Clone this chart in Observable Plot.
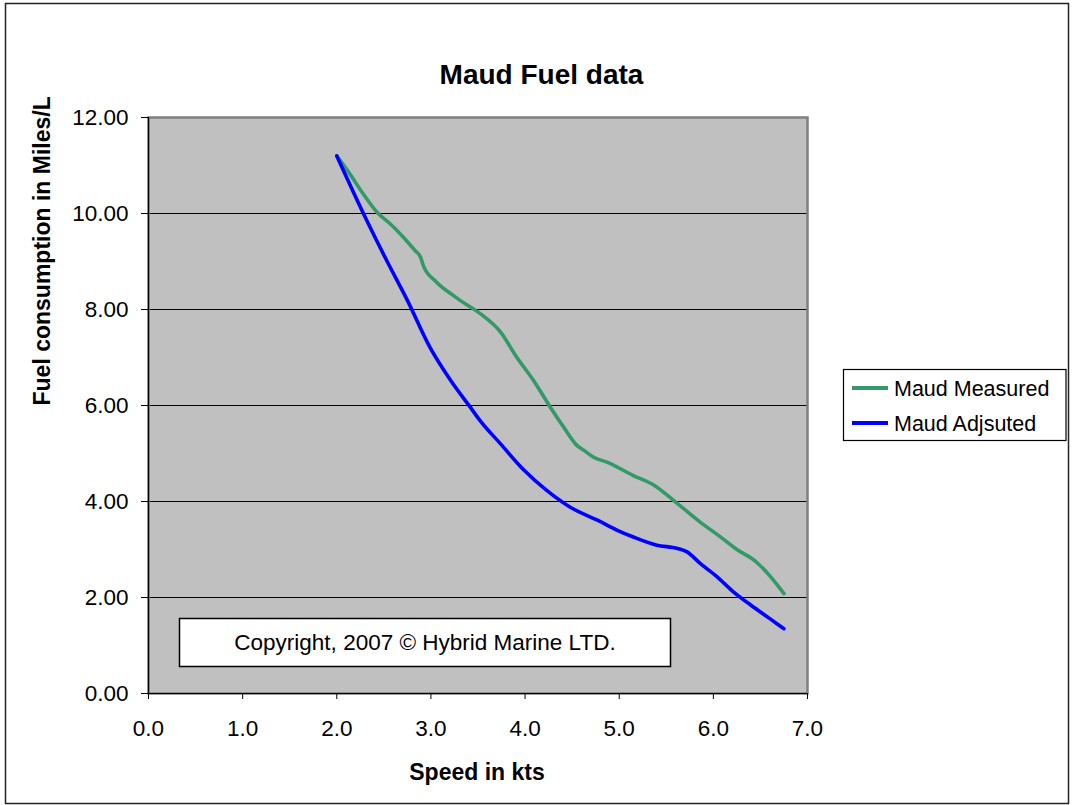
<!DOCTYPE html>
<html>
<head>
<meta charset="utf-8">
<script src="https://cdn.jsdelivr.net/npm/d3@7"></script>
<script src="https://cdn.jsdelivr.net/npm/@observablehq/plot@0.6"></script>
<style>
  html, body { margin: 0; padding: 0; background: #ffffff; }
  #chart svg { display: block; }
</style>
</head>
<body>
<div id="chart"></div>
<script>
// ---- Data ----
const chartTitle = "Maud Fuel data";
const xLabel = "Speed in kts";
const yLabel = "Fuel consumption in Miles/L";
const copyrightText = "Copyright, 2007 © Hybrid Marine LTD.";

const seriesNames = ["Maud Measured", "Maud Adjsuted"];
const seriesColors = ["#339966", "#0000FF"];

const measuredSpeed = [2.00, 2.14, 2.28, 2.43, 2.57, 2.71, 2.83, 2.89, 2.92, 3.06, 3.24, 3.31, 3.52, 3.74, 3.91, 4.09, 4.27, 4.41, 4.55, 4.63, 4.73, 4.87, 5.15, 5.37, 5.58, 5.86, 6.05, 6.25, 6.45, 6.60, 6.75];
const measuredFuel  = [11.20, 10.82, 10.41, 10.02, 9.78, 9.50, 9.23, 9.09, 8.91, 8.57, 8.29, 8.19, 7.92, 7.53, 7.01, 6.52, 5.96, 5.55, 5.17, 5.06, 4.92, 4.82, 4.54, 4.34, 4.02, 3.57, 3.30, 3.00, 2.75, 2.45, 2.08];

const adjustedSpeed = [2.00, 2.32, 2.53, 2.75, 2.99, 3.21, 3.42, 3.52, 3.74, 3.99, 4.23, 4.48, 4.77, 4.98, 5.15, 5.40, 5.62, 5.72, 5.86, 6.04, 6.20, 6.40, 6.60, 6.75];
const adjustedFuel  = [11.20, 9.85, 9.02, 8.19, 7.21, 6.52, 5.96, 5.69, 5.20, 4.65, 4.23, 3.88, 3.61, 3.40, 3.26, 3.09, 3.02, 2.95, 2.71, 2.43, 2.14, 1.84, 1.56, 1.35];

const xTicks = [0, 1, 2, 3, 4, 5, 6, 7];
const yTicks = [0, 2, 4, 6, 8, 10, 12];
const gridValues = [2, 4, 6, 8, 10];

// ---- Table built from the arrays ----
const rows = [
  ...measuredSpeed.map((s, i) => ({ series: seriesNames[0], speed: s, fuel: measuredFuel[i] })),
  ...adjustedSpeed.map((s, i) => ({ series: seriesNames[1], speed: s, fuel: adjustedFuel[i] }))
];

const FONT = "'Liberation Sans', Arial, Helvetica, sans-serif";

const chart = Plot.plot({
  width: 1072,
  height: 805,
  marginLeft: 148,
  marginRight: 265,
  marginTop: 117,
  marginBottom: 112,
  style: { fontFamily: FONT, fontSize: "22px", color: "#000", background: "#ffffff", overflow: "visible" },
  x: { domain: [0, 7] },
  y: { domain: [0, 12] },
  color: { domain: seriesNames, range: seriesColors },
  marks: [
    Plot.frame({ fill: "#C0C0C0" }),
    Plot.ruleY(gridValues, { stroke: "#000", strokeWidth: 1.2 }),
    Plot.frame({ stroke: "#808080", strokeWidth: 2.5 }),
    Plot.ruleX([0], { stroke: "#000", strokeWidth: 1.2 }),
    Plot.ruleY([0], { stroke: "#000", strokeWidth: 1.2 }),
    Plot.line(rows, { x: "speed", y: "fuel", z: "series", stroke: "series", strokeWidth: 3.6, curve: "monotone-x" }),
    Plot.axisX({ ticks: xTicks, tickFormat: d3.format(".1f"), tickSize: 6, tickPadding: 21, label: null, fontSize: 22.5 }),
    Plot.axisY({ ticks: yTicks, tickFormat: d3.format(".2f"), tickSize: 7, tickPadding: 13, label: null, fontSize: 22.5 }),
    Plot.text([chartTitle], { text: d => d, frameAnchor: "top", dx: 63.5, dy: -42, lineAnchor: "middle", fontSize: 28, fontWeight: "bold" }),
    Plot.text([xLabel], { text: d => d, frameAnchor: "bottom", dx: -1, dy: 79, lineAnchor: "middle", fontSize: 23, fontWeight: "bold" }),
    Plot.text([yLabel], { text: d => d, frameAnchor: "left", dx: -106, dy: 0, rotate: -90, lineAnchor: "middle", fontSize: 23, fontWeight: "bold" })
  ]
});

document.getElementById("chart").appendChild(chart);

// ---- Decorations: outer border, legend, copyright box ----
const svg = d3.select(chart);

svg.append("rect")
  .attr("x", 5.5).attr("y", 3.5)
  .attr("width", 1063).attr("height", 800)
  .attr("fill", "none").attr("stroke", "#222").attr("stroke-width", 1.5);

// copyright box (inside plot area, lower left)
const cb = svg.append("g");
cb.append("rect")
  .attr("x", 179.5).attr("y", 618.5)
  .attr("width", 491).attr("height", 48)
  .attr("fill", "#fff").attr("stroke", "#000").attr("stroke-width", 1.5);
cb.append("text")
  .attr("x", 425).attr("y", 650)
  .attr("text-anchor", "middle")
  .attr("font-family", FONT).attr("font-size", 22.5)
  .attr("fill", "#000")
  .text(copyrightText);

// legend
const lg = svg.append("g").attr("text-anchor", "start");
lg.append("rect")
  .attr("x", 843.5).attr("y", 369.5)
  .attr("width", 222.5).attr("height", 71)
  .attr("fill", "#fff").attr("stroke", "#000").attr("stroke-width", 1.2);
seriesNames.forEach((name, i) => {
  const cy = 388 + i * 35;
  lg.append("line")
    .attr("x1", 852).attr("x2", 888)
    .attr("y1", cy).attr("y2", cy)
    .attr("stroke", seriesColors[i]).attr("stroke-width", 4);
  lg.append("text")
    .attr("x", 894).attr("y", cy)
    .attr("dy", "0.35em")
    .attr("text-anchor", "start")
    .attr("font-family", FONT).attr("font-size", 21.5)
    .attr("fill", "#000")
    .text(name);
});
</script>
</body>
</html>
